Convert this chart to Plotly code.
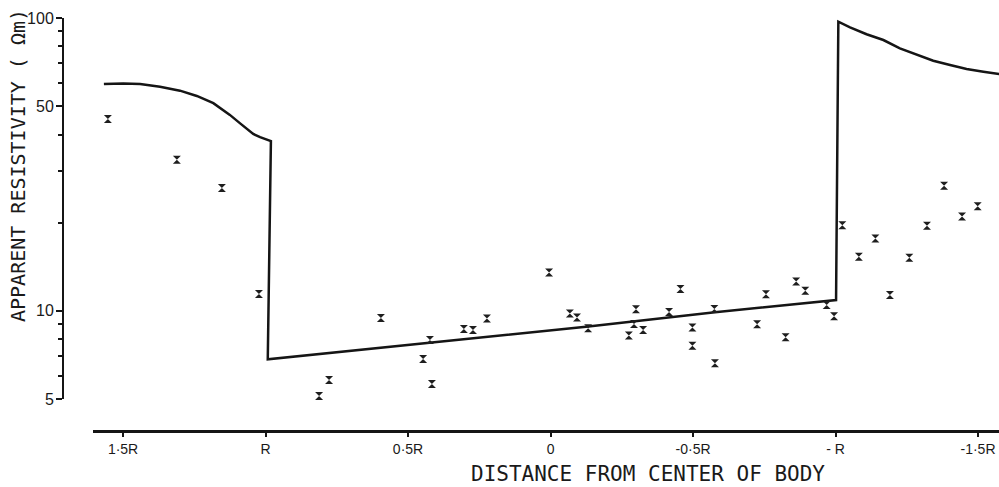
import plotly.graph_objects as go

# Theoretical (model) curve: distance from centre (units of R) vs apparent resistivity (ohm m)
curve_x = [1.567, 1.499, 1.440, 1.370, 1.300, 1.241, 1.183, 1.125, 1.089, 1.066, 1.043, 1.019,
           0.996, 0.981, 0.992, -0.133, -0.577, -1.002,
           -1.010, -1.051, -1.109, -1.168, -1.226, -1.285, -1.343, -1.402, -1.460, -1.519, -1.574]
curve_y = [59.5, 59.8, 59.5, 58.3, 56.5, 54.2, 51.2, 46.7, 43.7, 42.0, 40.2, 39.2,
           38.5, 38.0, 6.84, 8.85, 9.9, 10.9,
           97.1, 92.9, 88.0, 84.1, 78.8, 74.8, 71.5, 69.1, 67.0, 65.6, 64.4]

# Observed values
obs_x = [1.553, 1.311, 1.153, 1.023, 0.812, 0.777, 0.595, 0.447, 0.423, 0.416,
         0.304, 0.272, 0.223, 0.005, -0.068, -0.093, -0.132, -0.275, -0.293, -0.300,
         -0.325, -0.416, -0.456, -0.498, -0.498, -0.575, -0.577, -0.725, -0.756, -0.825,
         -0.862, -0.894, -0.969, -0.995, -1.024, -1.082, -1.140, -1.191, -1.259, -1.321,
         -1.381, -1.444, -1.499]
obs_y = [45.2, 32.8, 26.3, 11.43, 5.13, 5.81, 9.46, 6.86, 7.96, 5.63,
         8.68, 8.61, 9.43, 13.53, 9.80, 9.50, 8.73, 8.24, 9.03, 10.13,
         8.61, 9.92, 11.89, 8.78, 7.61, 10.16, 6.63, 9.01, 11.40, 8.13,
         12.61, 11.73, 10.48, 9.59, 19.63, 15.32, 17.68, 11.34, 15.20, 19.55,
         26.77, 21.01, 22.77]

x_tickvals = [1.5, 1.0, 0.5, 0.0, -0.5, -1.0, -1.5]
x_ticktext = ["1·5R", "R", "0·5R", "0", "-0·5R", "- R", "-1·5R"]
y_tickvals = [5, 10, 50, 100]
y_ticktext = ["5", "10", "50", "100"]
y_minor_vals = [6, 7, 8, 9, 20, 30, 40, 60, 70, 80, 90]

INK = "#151515"

fig = go.Figure()
fig.add_trace(go.Scatter(x=curve_x, y=curve_y, mode="lines",
                         line=dict(color=INK, width=2.5), showlegend=False,
                         hoverinfo="skip"))
fig.add_trace(go.Scatter(x=obs_x, y=obs_y, mode="markers",
                         marker=dict(symbol="hourglass", size=8, color="#1e1e1e"),
                         showlegend=False))
# empty trace to bind the drawn axes
fig.add_trace(go.Scatter(x=[], y=[], xaxis="x2", yaxis="y2", showlegend=False,
                         hoverinfo="skip"))

tickfont_x = dict(family="Liberation Sans, Arial", size=14, color="#1a1a1a")
tickfont_y = dict(family="Liberation Sans, Arial", size=16, color="#1a1a1a")

fig.update_layout(
    width=999, height=487,
    margin=dict(l=63, r=0, t=18, b=56, autoexpand=False),
    paper_bgcolor="white", plot_bgcolor="rgba(0,0,0,0)",
    xaxis=dict(domain=[0, 1], range=[1.7105, -1.5737], visible=False),
    yaxis=dict(domain=[0, 1], type="log", range=[0.5904, 2], visible=False),
    xaxis2=dict(domain=[0.0321, 1], range=[1.6053, -1.5737], anchor="free", position=0,
                automargin=False,
                showline=True, linewidth=2.5, linecolor=INK, showgrid=False, zeroline=False,
                ticks="outside", ticklen=4, tickwidth=2, tickcolor=INK,
                tickvals=x_tickvals, ticktext=x_ticktext, tickfont=tickfont_x),
    yaxis2=dict(domain=[0.0775, 1], type="log", range=[0.69897, 2], anchor="free", position=0,
                automargin=False, ticklabelstandoff=-1,
                showline=True, linewidth=2, linecolor=INK, showgrid=False, zeroline=False,
                ticks="outside", ticklen=6, tickwidth=2, tickcolor=INK,
                tickvals=y_tickvals, ticktext=y_ticktext, tickfont=tickfont_y,
                minor=dict(tickvals=y_minor_vals, ticks="outside", ticklen=4,
                           tickwidth=1.5, tickcolor=INK, showgrid=False)),
    annotations=[
        dict(text="DISTANCE FROM CENTER OF BODY", xref="paper", yref="paper",
             x=(648 - 63) / 936, y=-(474 - 431) / 413, xanchor="center", yanchor="middle",
             showarrow=False,
             font=dict(family="DejaVu Sans Mono", size=21, color="#1a1a1a")),
        dict(text="APPARENT RESISTIVITY ( Ωm)", xref="paper", yref="paper",
             x=(18 - 63) / 936, y=(431 - 166) / 413, xanchor="center", yanchor="middle",
             textangle=-90, showarrow=False,
             font=dict(family="DejaVu Sans Mono", size=20, color="#1a1a1a")),
    ],
)

fig.write_html("out.html", config={"displayModeBar": False},
               post_script="document.body.style.margin='0px';document.body.style.overflow='hidden';")
